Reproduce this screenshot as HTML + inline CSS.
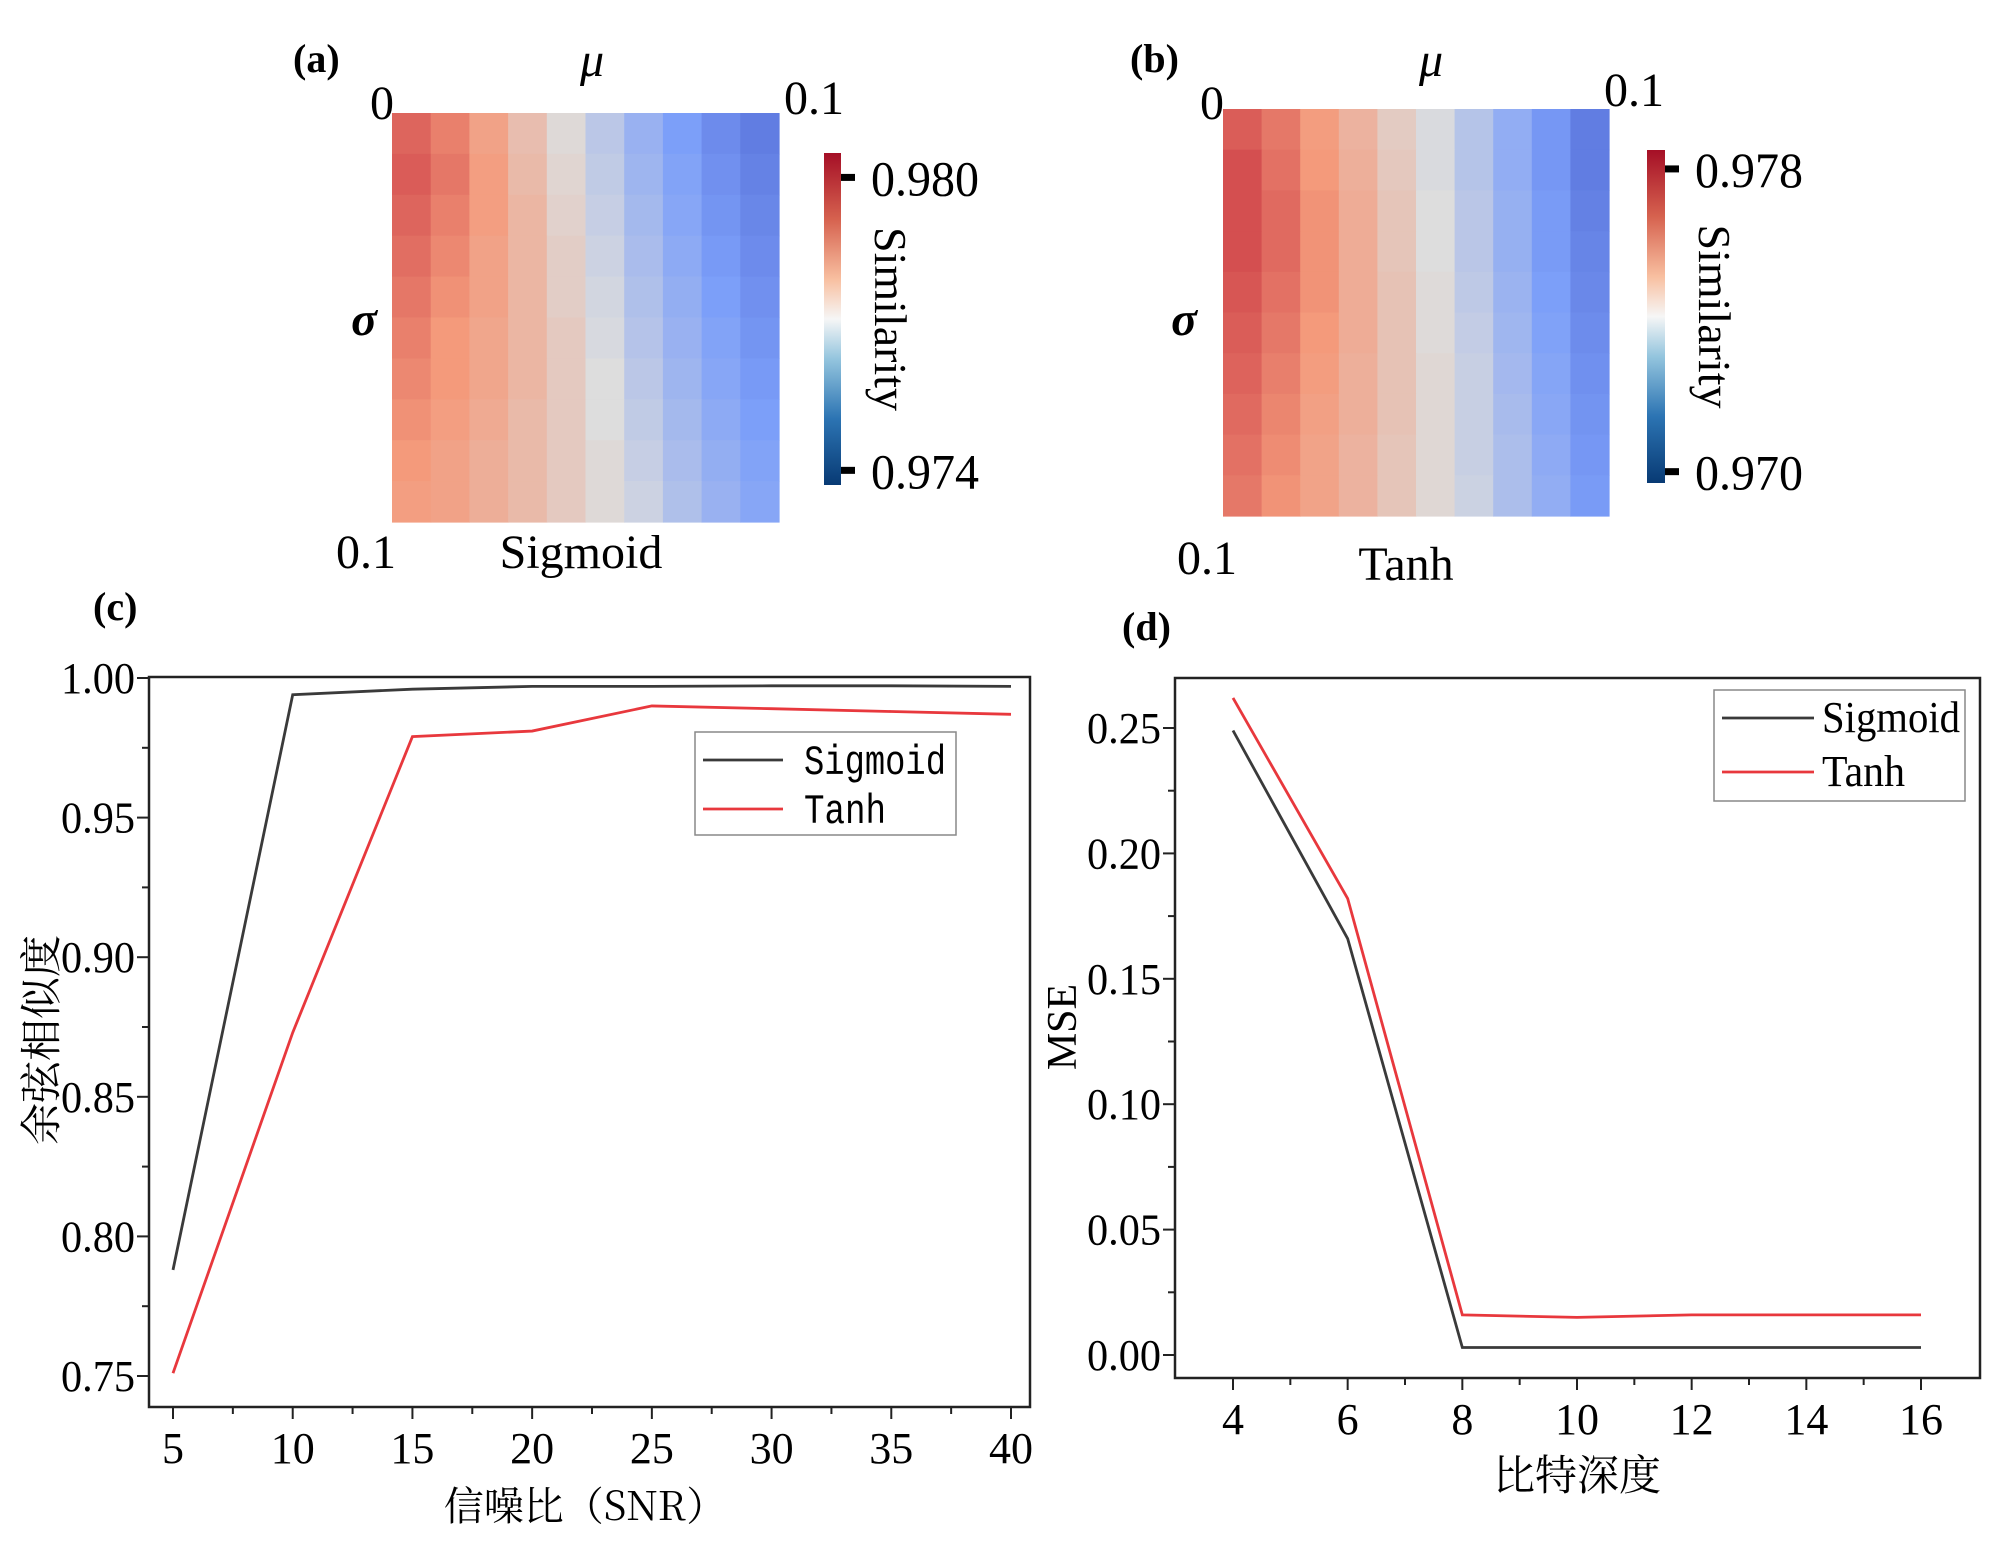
<!DOCTYPE html>
<html><head><meta charset="utf-8">
<style>
html,body{margin:0;padding:0;background:#fff;}
svg{display:block;font-family:"Liberation Serif","Noto Serif CJK SC",serif;}
</style></head>
<body>
<svg id="fig" width="2000" height="1545" viewBox="0 0 2000 1545" xmlns="http://www.w3.org/2000/svg">
<defs>
<linearGradient id="rdbu" x1="0" y1="1" x2="0" y2="0">
<stop offset="0" stop-color="#083a74"/><stop offset="0.2" stop-color="#2c74b3"/><stop offset="0.38" stop-color="#94c5de"/>
<stop offset="0.5" stop-color="#f6f6f6"/><stop offset="0.62" stop-color="#f8bfa0"/><stop offset="0.8" stop-color="#d6624f"/><stop offset="1" stop-color="#a50f26"/>
</linearGradient>
</defs>
<g id="pa"></g>
<g id="pb"></g>
<g id="pc"></g>
<g id="pd"></g>
</svg>
<script>
// ---- Heatmap data (similarity, rows top->bottom = sigma 0..0.1, cols left->right = mu 0..0.1)
const sigmoidGrid = [
 [0.9794,0.9791,0.9786,0.9779,0.9772,0.9765,0.9759,0.9754,0.9750,0.9747],
 [0.9795,0.9792,0.9787,0.9780,0.9773,0.9766,0.9760,0.9755,0.9751,0.9748],
 [0.9794,0.9791,0.9787,0.9781,0.9774,0.9767,0.9761,0.9756,0.9752,0.9749],
 [0.9793,0.9790,0.9786,0.9781,0.9775,0.9768,0.9762,0.9757,0.9753,0.9750],
 [0.9792,0.9789,0.9786,0.9781,0.9775,0.9769,0.9763,0.9758,0.9754,0.9751],
 [0.9791,0.9788,0.9785,0.9781,0.9776,0.9770,0.9764,0.9759,0.9755,0.9752],
 [0.9790,0.9788,0.9785,0.9781,0.9776,0.9771,0.9765,0.9760,0.9756,0.9753],
 [0.9789,0.9787,0.9784,0.9780,0.9776,0.9771,0.9766,0.9761,0.9757,0.9754],
 [0.9788,0.9786,0.9783,0.9780,0.9776,0.9772,0.9767,0.9762,0.9758,0.9755],
 [0.9787,0.9786,0.9783,0.9780,0.9776,0.9772,0.9768,0.9763,0.9759,0.9756]
];
const tanhGrid = [
 [0.9772,0.9768,0.9762,0.9755,0.9747,0.9740,0.9732,0.9724,0.9717,0.9710],
 [0.9774,0.9769,0.9763,0.9756,0.9748,0.9740,0.9732,0.9724,0.9717,0.9710],
 [0.9774,0.9770,0.9764,0.9757,0.9749,0.9741,0.9733,0.9725,0.9718,0.9711],
 [0.9774,0.9770,0.9764,0.9757,0.9749,0.9741,0.9733,0.9725,0.9718,0.9712],
 [0.9773,0.9769,0.9764,0.9757,0.9750,0.9742,0.9734,0.9726,0.9719,0.9713],
 [0.9772,0.9768,0.9763,0.9757,0.9750,0.9742,0.9735,0.9727,0.9720,0.9714],
 [0.9771,0.9767,0.9762,0.9756,0.9750,0.9743,0.9736,0.9728,0.9721,0.9715],
 [0.9770,0.9766,0.9761,0.9756,0.9750,0.9743,0.9736,0.9729,0.9722,0.9716],
 [0.9769,0.9765,0.9760,0.9755,0.9749,0.9743,0.9736,0.9730,0.9723,0.9717],
 [0.9768,0.9764,0.9760,0.9755,0.9749,0.9743,0.9737,0.9730,0.9724,0.9718]
];
const sigmoidCbarRange = [0.9737, 0.9805];
const sigmoidCbarTicks = [0.980, 0.974];
const tanhCbarRange = [0.9697, 0.9785];
const tanhCbarTicks = [0.978, 0.970];

// ---- Line chart (c) data
const snrCategories = [5,10,15,20,25,30,35,40];
const snrSigmoid = [0.788,0.994,0.996,0.997,0.997,0.9972,0.9972,0.997];
const snrTanh = [0.751,0.873,0.979,0.981,0.990,0.989,0.988,0.987];
const cXTicks = [5,10,15,20,25,30,35,40];
const cYTicks = [0.75,0.80,0.85,0.90,0.95,1.00];
const cYTickLabels = ["0.75","0.80","0.85","0.90","0.95","1.00"];

// ---- Line chart (d) data
const bitCategories = [4,6,8,10,12,14,16];
const bitSigmoid = [0.249,0.166,0.003,0.003,0.003,0.003,0.003];
const bitTanh = [0.262,0.182,0.016,0.015,0.016,0.016,0.016];
const dXTicks = [4,6,8,10,12,14,16];
const dYTicks = [0,0.05,0.10,0.15,0.20,0.25];
const dYTickLabels = ["0.00","0.05","0.10","0.15","0.20","0.25"];

const NS="http://www.w3.org/2000/svg";
function mk(parent,tag,attrs,text){const e=document.createElementNS(NS,tag);for(const k in attrs)e.setAttribute(k,attrs[k]);if(text!==undefined)e.textContent=text;parent.appendChild(e);return e;}

function lerp(a,b,t){return a+(b-a)*t;}
const cw=[[0,[59,76,192]],[0.25,[124,159,249]],[0.5,[221,221,221]],[0.75,[244,154,123]],[1,[180,4,38]]];
function cmap(t){t=Math.max(0,Math.min(1,t));for(let i=1;i<cw.length;i++){if(t<=cw[i][0]){const a=cw[i-1],b=cw[i];const u=(t-a[0])/(b[0]-a[0]);return `rgb(${Math.round(lerp(a[1][0],b[1][0],u))},${Math.round(lerp(a[1][1],b[1][1],u))},${Math.round(lerp(a[1][2],b[1][2],u))})`;}}return "rgb(180,4,38)";}

function heatmap(g,grid,range,ticks,box,cb,labels){
  const rows=grid.length,cols=grid[0].length;
  const cwid=(box.r-box.l)/cols,ch=(box.b-box.t)/rows;
  const hg=mk(g,'g',{});
  
  
  for(let i=0;i<rows;i++)for(let j=0;j<cols;j++){
    const t=(grid[i][j]-range[0])/(range[1]-range[0]);
    const c=mk(hg,'rect',{x:box.l+j*cwid,y:box.t+i*ch,width:cwid+0.6,height:ch+0.6,fill:cmap(t)});
    
    
  }
  const bar=mk(g,'rect',{x:cb.l,y:cb.t,width:cb.w,height:cb.b-cb.t,fill:'url(#rdbu)'});
  
  
  ticks.forEach(v=>{
    const y=cb.b-(v-range[0])/(range[1]-range[0])*(cb.b-cb.t);
    const tk=mk(g,'rect',{x:cb.l+cb.w,y:y-3.5,width:14,height:7,fill:'#000'});
    
    
    const tl=mk(g,'text',{x:cb.l+cb.w+30,y:y+18,'font-size':50,textLength:108,lengthAdjust:'spacingAndGlyphs'},v.toFixed(3));
    
    
  });
  const st=mk(g,'text',{x:0,y:0,'font-size':46,'text-anchor':'middle',transform:`translate(${cb.l+cb.w+34},${(cb.t+cb.b)/2}) rotate(90)`},'Similarity');
  
  
  labels.forEach(L=>{
    const e=mk(g,'text',L.a,L.s);
    
    
  });
}

heatmap(document.getElementById('pa'),sigmoidGrid,sigmoidCbarRange,sigmoidCbarTicks,
 {l:392,r:779,t:113,b:522},{l:824,w:17,t:153,b:485},[
 {n:'panel-label-a',s:'(a)',a:{x:293,y:72,'font-size':40,'font-weight':'bold'}},
 {n:'mu-axis-title',s:'μ',a:{x:592,y:76,'font-size':48,'font-style':'italic','text-anchor':'middle'}},
 {n:'x-start-label',s:'0',a:{x:382,y:119,'font-size':48,'text-anchor':'middle'}},
 {n:'x-end-label',s:'0.1',a:{x:814,y:114,'font-size':48,'text-anchor':'middle'}},
 {n:'sigma-axis-title',s:'σ',a:{x:364,y:335,'font-size':48,'font-style':'italic','font-weight':'bold','text-anchor':'middle'}},
 {n:'y-end-label',s:'0.1',a:{x:366,y:568,'font-size':48,'text-anchor':'middle'}},
 {n:'heatmap-title',s:'Sigmoid',a:{x:581,y:568,'font-size':48,'text-anchor':'middle'}}
]);
heatmap(document.getElementById('pb'),tanhGrid,tanhCbarRange,tanhCbarTicks,
 {l:1223,r:1609,t:109,b:516},{l:1647,w:18,t:150,b:483},[
 {n:'panel-label-b',s:'(b)',a:{x:1130,y:72,'font-size':40,'font-weight':'bold'}},
 {n:'mu-axis-title',s:'μ',a:{x:1431,y:76,'font-size':48,'font-style':'italic','text-anchor':'middle'}},
 {n:'x-start-label',s:'0',a:{x:1212,y:119,'font-size':48,'text-anchor':'middle'}},
 {n:'x-end-label',s:'0.1',a:{x:1634,y:106,'font-size':48,'text-anchor':'middle'}},
 {n:'sigma-axis-title',s:'σ',a:{x:1184,y:335,'font-size':48,'font-style':'italic','font-weight':'bold','text-anchor':'middle'}},
 {n:'y-end-label',s:'0.1',a:{x:1207,y:574,'font-size':48,'text-anchor':'middle'}},
 {n:'heatmap-title',s:'Tanh',a:{x:1406,y:580,'font-size':48,'text-anchor':'middle'}}
]);

function lineChart(g,o){
  const X=v=>o.px0+(v-o.x0)/(o.x1-o.x0)*(o.px1-o.px0);
  const Y=v=>o.py0+(v-o.y0)/(o.y1-o.y0)*(o.py1-o.py0);
  const fr=mk(g,'rect',{x:o.l,y:o.t,width:o.r-o.l,height:o.b-o.t,fill:'none',stroke:'#222','stroke-width':2.5});
  
  
  o.xt.forEach((v,i)=>{
    const x=X(v);
    const t=mk(g,'line',{x1:x,x2:x,y1:o.b,y2:o.b+12,stroke:'#222','stroke-width':2});
    
    
    if(i<o.xt.length-1){const xm=X((v+o.xt[i+1])/2);
      const m=mk(g,'line',{x1:xm,x2:xm,y1:o.b,y2:o.b+7,stroke:'#222','stroke-width':2});
      
      }
    const l=mk(g,'text',{x:x,y:o.b+56,'font-size':44,'text-anchor':'middle'},String(v));
    
    
  });
  o.yt.forEach((v,i)=>{
    const y=Y(v);
    const t=mk(g,'line',{x1:o.l-12,x2:o.l,y1:y,y2:y,stroke:'#222','stroke-width':2});
    
    
    if(i<o.yt.length-1){const ym=Y((v+o.yt[i+1])/2);
      const m=mk(g,'line',{x1:o.l-7,x2:o.l,y1:ym,y2:ym,stroke:'#222','stroke-width':2});
      
      }
    const l=mk(g,'text',{x:o.l-14,y:y+15,'font-size':44,'text-anchor':'end',textLength:74,lengthAdjust:'spacingAndGlyphs'},o.ytl[i]);
    
    
  });
  o.series.forEach(s=>{
    const p=mk(g,'polyline',{points:o.cats.map((c,i)=>X(c)+','+Y(s.v[i])).join(' '),fill:'none',stroke:s.c,'stroke-width':2.8});
    
    
  });
  const lg=mk(g,'g',{});
  
  
  const lb=mk(lg,'rect',{x:o.lg.x,y:o.lg.y,width:o.lg.w,height:o.lg.h,fill:'#fff',stroke:'#888','stroke-width':1.5});
  
  
  o.series.forEach((s,i)=>{
    const y=o.lg.y+o.lg.r0+i*o.lg.dy;
    const ln=mk(lg,'line',{x1:o.lg.x+8,x2:o.lg.x+8+o.lg.ll,y1:y,y2:y,stroke:s.c,'stroke-width':2.8});
    
    
    const attrs={x:o.lg.x+o.lg.tx,y:y+14,'font-size':o.lg.fs,'font-family':o.lg.ff};
    if(o.lg.tl)attrs.textLength=o.lg.tl[i],attrs.lengthAdjust='spacingAndGlyphs';
    const tx=mk(lg,'text',attrs,s.label);
    
    
  });
}

const pc=document.getElementById('pc');
lineChart(pc,{l:149,r:1030,t:677,b:1407,x0:5,x1:40,px0:173,px1:1011,y0:0.75,y1:1.00,py0:1376,py1:678,
 xt:cXTicks,yt:cYTicks,ytl:cYTickLabels,cats:snrCategories,
 series:[{n:'sigmoid-line',label:'Sigmoid',c:'#3a3a3a',v:snrSigmoid},{n:'tanh-line',label:'Tanh',c:'#e8383d',v:snrTanh}],
 lg:{x:695,y:732,w:261,h:103,r0:28,dy:49,ll:80,tx:109,fs:42,tl:[142,82],ff:'"Liberation Mono","Noto Sans CJK SC",monospace'}});
let e;
e=mk(pc,'text',{x:93,y:620,'font-size':40,'font-weight':'bold'},'(c)');


e=mk(pc,'text',{x:0,y:0,'font-size':42,'text-anchor':'middle',transform:'translate(56,1040) rotate(-90)','font-family':'"Noto Serif CJK SC","Noto Sans CJK SC",serif'},'余弦相似度');


e=mk(pc,'text',{x:585,y:1520,'font-size':40,'text-anchor':'middle','font-family':'"Noto Serif CJK SC","Noto Sans CJK SC",serif'},'信噪比（SNR）');



const pd=document.getElementById('pd');
lineChart(pd,{l:1175,r:1980,t:678,b:1378,x0:4,x1:16,px0:1233,px1:1921,y0:0,y1:0.25,py0:1355,py1:728,
 xt:dXTicks,yt:dYTicks,ytl:dYTickLabels,cats:bitCategories,
 series:[{n:'sigmoid-line',label:'Sigmoid',c:'#3a3a3a',v:bitSigmoid},{n:'tanh-line',label:'Tanh',c:'#e8383d',v:bitTanh}],
 lg:{x:1714,y:690,w:251,h:111,r0:28,dy:54,ll:92,tx:108,fs:44,tl:[138,83],ff:'"Liberation Serif",serif'}});
e=mk(pd,'text',{x:1122,y:640,'font-size':40,'font-weight':'bold'},'(d)');


e=mk(pd,'text',{x:0,y:0,'font-size':42,'text-anchor':'middle',transform:'translate(1076,1027) rotate(-90)'},'MSE');


e=mk(pd,'text',{x:1577,y:1490,'font-size':42,'text-anchor':'middle','font-family':'"Noto Serif CJK SC","Noto Sans CJK SC",serif'},'比特深度');


</script>
</body></html>
